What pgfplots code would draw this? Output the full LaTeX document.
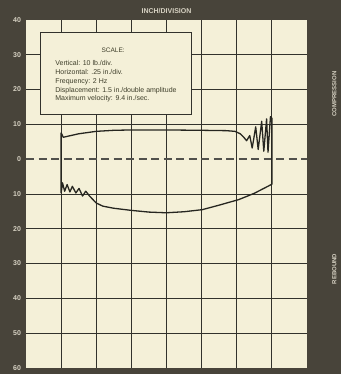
\documentclass[border=0pt]{standalone}
\usepackage{pgfplots}
\pgfplotsset{compat=1.18}
\usepackage{fontspec}
\setmainfont{Liberation Sans}
\definecolor{bg}{RGB}{72,68,58}
\definecolor{paper}{RGB}{244,240,216}
\definecolor{lbl}{RGB}{215,210,195}
\definecolor{ink}{RGB}{38,38,32}
\definecolor{gridc}{RGB}{50,50,44}
\definecolor{boxtext}{RGB}{62,62,42}
\begin{document}
\begin{tikzpicture}
\useasboundingbox (0,0) rectangle (341pt,374pt);
\fill[bg] (0,0) rectangle (341pt,374pt);
\begin{axis}[
  at={(26pt,6pt)}, anchor=south west,
  scale only axis, width=281pt, height=348pt,
  xmin=0, xmax=8, ymin=-60, ymax=40,
  axis background/.style={fill=paper},
  axis line style={draw=none},
  xtick={1,2,3,4,5,6,7}, xticklabels={},
  ytick={-50,-40,-30,-20,-10,10,20,30},
  yticklabels={50,40,30,20,10,10,20,30},
  extra y ticks={-60,0,40},
  extra y tick labels={60,0,40},
  extra y tick style={grid=none},
  grid=major,
  major grid style={draw=gridc, line width=0.8pt},
  major tick length=0pt,
  tick style={draw=none},
  yticklabel style={text=lbl, font=\fontsize{7}{8}\selectfont\bfseries, xshift=-1.5pt},
  /pgf/number format/assume math mode=true,
  title={INCH/DIVISION},
  title style={at={(0.5,1)}, anchor=center, yshift=3pt, text=lbl, font=\fontsize{7}{8}\selectfont\bfseries},
  clip=false,
]
\addplot[draw=gridc!85, line width=1.6pt, dash pattern=on 8pt off 4.5pt, forget plot] coordinates {(0,0) (8,0)};
\draw[draw=gridc, line width=0.9pt, fill=paper] (axis cs:0.4,12.8) rectangle (axis cs:4.72,36.3);
\node[text=boxtext, font=\fontsize{6.5}{7}\selectfont] at (axis cs:2.48,31.3) {SCALE:};
\node[text=boxtext, font=\fontsize{7}{8.8}\selectfont, align=left, anchor=west, inner sep=0pt] at (axis cs:0.83,22.3)
 {Vertical: 10 lb./div.\\Horizontal: .25 in./div.\\Frequency: 2 Hz\\Displacement: 1.5 in./double amplitude\\Maximum velocity: 9.4 in./sec.};
\addplot[draw=ink, line width=1.3pt, line join=round, forget plot] coordinates {
 (1.0,7.6) (1.06,6.3) (1.5,7.3) (2.0,8.0) (2.5,8.3) (3,8.4) (4,8.4) (5,8.3) (5.7,8.2) (5.95,8.0)
 (6.1,7.3) (6.2,6.3) (6.28,5.3)
 (6.37,6.8) (6.44,3.2) (6.54,9.3) (6.61,2.8) (6.71,10.9) (6.77,2.3) (6.85,11.6) (6.89,2.0) (6.96,12.2) (7.0,11.8)
 (7.0,-7.2) (6.5,-9.8) (6.06,-11.6) (5.5,-13.2) (5.02,-14.5) (4.5,-15.1) (3.99,-15.4) (3.5,-15.2) (2.99,-14.7) (2.5,-14.1) (2.19,-13.5) (2.0,-12.6)
 (1.81,-10.6) (1.70,-9.2) (1.61,-10.6) (1.51,-8.4) (1.42,-9.7) (1.32,-7.8) (1.25,-9.4) (1.17,-7.3) (1.10,-9.2) (1.04,-6.8) (1.0,-9.7)
 (1.0,7.6)
};
\node[rotate=90, text=lbl, font=\fontsize{6}{7}\selectfont\bfseries] at (axis cs:8.78,18.7) {COMPRESSION};
\node[rotate=90, text=lbl, font=\fontsize{6}{7}\selectfont\bfseries] at (axis cs:8.78,-31.6) {REBOUND};
\end{axis}
\begin{axis}[
  at={(26pt,6pt)}, anchor=south west,
  scale only axis, width=281pt, height=348pt,
  xmin=0, xmax=8, ymin=-60, ymax=40,
  axis lines=none,
  axis line style={draw=none},
  xtick=\empty,
  ytick={-60,-50,-40,-30,-20,-10,0,10,20,30,40},
  yticklabels={60,50,40,30,20,10,0,10,20,30,40},
  yticklabel pos=right,
  major tick length=0pt,
  tick style={draw=none},
  yticklabel style={text=lbl, font=\fontsize{7}{8}\selectfont\bfseries, xshift=1.5pt},
]
\end{axis}
\end{tikzpicture}
\end{document}
